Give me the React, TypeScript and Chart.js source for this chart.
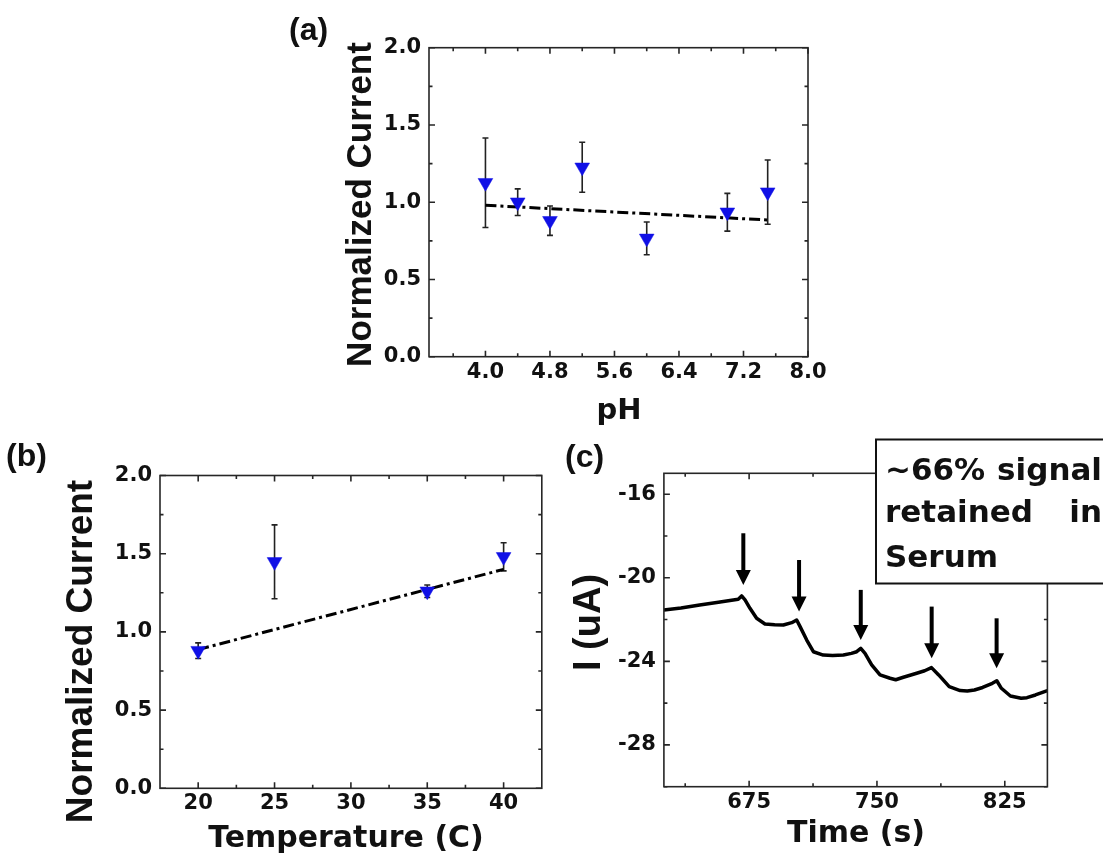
import React, { useEffect, useRef } from "react";
import { Chart, registerables } from "chart.js";

Chart.register(...registerables);

const W = 1103;
const H = 856;

// ---------- Panel (a): pH ----------
const phValues = [4.0, 4.4, 4.8, 5.2, 6.0, 7.0, 7.5];
const phCurrent = [1.126, 1.0, 0.88, 1.226, 0.766, 0.935, 1.065];
const phError = [0.29, 0.086, 0.095, 0.162, 0.106, 0.122, 0.208];
const phFitX = [4.0, 7.5];
const phFitY = [0.98, 0.885];
const phTicks = [4.0, 4.8, 5.6, 6.4, 7.2, 8.0];
const phTickLabels = ["4.0", "4.8", "5.6", "6.4", "7.2", "8.0"];
const phMinorTicks = [3.6, 4.4, 5.2, 6.0, 6.8, 7.6];

const ncTicks = [0, 0.5, 1.0, 1.5, 2.0];
const ncTickLabels = ["0.0", "0.5", "1.0", "1.5", "2.0"];
const ncMinorTicks = [0.25, 0.75, 1.25, 1.75];

// ---------- Panel (b): temperature ----------
const tempValues = [20, 25, 35, 40];
const tempCurrent = [0.88, 1.448, 1.26, 1.48];
const tempError = [0.05, 0.236, 0.04, 0.09];
const tempFitX = [20, 40];
const tempFitY = [0.887, 1.4];
const tempTicks = [20, 25, 30, 35, 40];
const tempTickLabels = ["20", "25", "30", "35", "40"];
const tempMinorTicks = [22.5, 27.5, 32.5, 37.5];

// ---------- Panel (c): amperometric trace in serum ----------
const timeValues = [
  625, 635, 646, 657, 668.6, 670.6, 672.6, 675.5, 679.4, 684.3, 690, 695.1,
  700, 702.9, 704.9, 708.8, 712.7, 718.5, 724, 730.3, 735, 738.1, 740.5, 743,
  746.9, 751.8, 757.7, 761, 765.5, 773.3, 778, 782, 786.2, 792.4, 798.8, 803,
  807.2, 812, 817.7, 820.3, 823, 828.3, 834.6, 838, 843, 850,
];
const currentUA = [
  -21.54, -21.45, -21.3, -21.17, -21.03, -20.87, -21.06, -21.46, -21.94, -22.21,
  -22.25, -22.26, -22.15, -22.02, -22.34, -22.98, -23.54, -23.7, -23.72, -23.7,
  -23.62, -23.54, -23.38, -23.62, -24.17, -24.65, -24.81, -24.88, -24.76, -24.57,
  -24.45, -24.3, -24.65, -25.21, -25.4, -25.42, -25.37, -25.25, -25.05, -24.93,
  -25.29, -25.66, -25.77, -25.74, -25.61, -25.4,
];
const arrowTimes = [671.6, 704.3, 740.5, 782.1, 820.2];
const arrowTops = [-17.87, -19.15, -20.58, -21.38, -21.94];
const arrowTips = [-20.35, -21.62, -22.98, -23.85, -24.33];
const timeTicks = [675, 750, 825];
const timeTickLabels = ["675", "750", "825"];
const timeMinorTicks = [637.5, 712.5, 787.5];
const uaTicks = [-28, -24, -20, -16];
const uaTickLabels = ["-28", "-24", "-20", "-16"];
const uaMinorTicks = [-30, -26, -22, -18];
const noteLines = [["~66%", "signal"], ["retained", "in"], ["Serum", ""]];

// ---------- styling ----------
const BLUE = "#1010e6";
const INK = "#111111";
const FRAME = "#262626";
const TICK_FONT = { family: "'DejaVu Sans', sans-serif", weight: "bold" as const, size: 21 };

type TextItem = {
  text: string;
  x: number;
  y: number;
  font: string;
  rotate?: boolean;
  align?: CanvasTextAlign;
  baseline?: CanvasTextBaseline;
};

function axis(min: number, max: number, ticks: number[], labels: string[], isX: boolean, size: number) {
  return {
    type: "linear" as const,
    min,
    max,
    afterBuildTicks: (s: any) => {
      s.ticks = ticks.map((v) => ({ value: v }));
    },
    afterFit: (s: any) => {
      if (isX) s.height = size;
      else s.width = size;
    },
    ticks: {
      callback: (_v: any, i: number) => labels[i],
      font: TICK_FONT,
      color: INK,
      padding: isX ? 3 : 8,
      maxRotation: 0,
      minRotation: 0,
      autoSkip: false,
    },
    grid: { display: false, drawTicks: false },
    border: { display: false },
  };
}

function framePlugin(xMajor: number[], xMinor: number[], yMajor: number[], yMinor: number[]) {
  return {
    id: "frameTicks",
    afterDatasetsDraw(chart: any) {
      const { ctx, chartArea: a, scales } = chart;
      const sx = scales.x;
      const sy = scales.y;
      ctx.save();
      ctx.strokeStyle = FRAME;
      ctx.lineWidth = 1.6;
      ctx.beginPath();
      const drawX = (vals: number[], len: number) => {
        vals.forEach((v) => {
          const p = sx.getPixelForValue(v);
          ctx.moveTo(p, a.bottom);
          ctx.lineTo(p, a.bottom - len);
          ctx.moveTo(p, a.top);
          ctx.lineTo(p, a.top + len);
        });
      };
      const drawY = (vals: number[], len: number) => {
        vals.forEach((v) => {
          const p = sy.getPixelForValue(v);
          ctx.moveTo(a.left, p);
          ctx.lineTo(a.left + len, p);
          ctx.moveTo(a.right, p);
          ctx.lineTo(a.right - len, p);
        });
      };
      drawX(xMajor, 6);
      drawX(xMinor, 3.5);
      drawY(yMajor, 6);
      drawY(yMinor, 3.5);
      ctx.stroke();
      ctx.strokeRect(a.left, a.top, a.right - a.left, a.bottom - a.top);
      ctx.restore();
    },
  };
}

function errorPlugin(xs: number[], ys: number[], errs: number[]) {
  return {
    id: "errorBars",
    beforeDatasetsDraw(chart: any) {
      const { ctx, scales } = chart;
      ctx.save();
      ctx.strokeStyle = "#222";
      ctx.lineWidth = 1.6;
      ctx.beginPath();
      xs.forEach((xv, i) => {
        const px = scales.x.getPixelForValue(xv);
        const top = scales.y.getPixelForValue(ys[i] + errs[i]);
        const bot = scales.y.getPixelForValue(ys[i] - errs[i]);
        ctx.moveTo(px, top);
        ctx.lineTo(px, bot);
        ctx.moveTo(px - 3, top);
        ctx.lineTo(px + 3, top);
        ctx.moveTo(px - 3, bot);
        ctx.lineTo(px + 3, bot);
      });
      ctx.stroke();
      ctx.restore();
    },
  };
}

function textPlugin(items: TextItem[]) {
  return {
    id: "texts",
    afterDraw(chart: any) {
      const { ctx } = chart;
      items.forEach((t) => {
        ctx.save();
        ctx.fillStyle = INK;
        ctx.font = t.font;
        ctx.textAlign = t.align || "center";
        ctx.textBaseline = t.baseline || "middle";
        ctx.translate(t.x, t.y);
        if (t.rotate) ctx.rotate(-Math.PI / 2);
        ctx.fillText(t.text, 0, 0);
        ctx.restore();
      });
    },
  };
}

function arrowPlugin() {
  return {
    id: "arrows",
    afterDatasetsDraw(chart: any) {
      const { ctx, scales } = chart;
      ctx.save();
      ctx.fillStyle = "#000";
      ctx.strokeStyle = "#000";
      arrowTimes.forEach((t, i) => {
        const px = scales.x.getPixelForValue(t);
        const top = scales.y.getPixelForValue(arrowTops[i]);
        const tip = scales.y.getPixelForValue(arrowTips[i]);
        const head = 15;
        ctx.lineWidth = 4;
        ctx.beginPath();
        ctx.moveTo(px, top);
        ctx.lineTo(px, tip - head + 2);
        ctx.stroke();
        ctx.beginPath();
        ctx.moveTo(px - 7.5, tip - head);
        ctx.lineTo(px + 7.5, tip - head);
        ctx.lineTo(px, tip);
        ctx.closePath();
        ctx.fill();
      });
      ctx.restore();
    },
  };
}

function notePlugin() {
  return {
    id: "noteBox",
    afterDraw(chart: any) {
      const { ctx } = chart;
      const left = 876;
      const top = 439.5;
      const bottom = 583.5;
      ctx.save();
      ctx.fillStyle = "#fff";
      ctx.fillRect(left, top, W - left + 10, bottom - top);
      ctx.strokeStyle = "#111";
      ctx.lineWidth = 2;
      ctx.strokeRect(left, top, W - left + 10, bottom - top);
      ctx.fillStyle = INK;
      ctx.font = "bold 31px 'DejaVu Sans', sans-serif";
      ctx.textBaseline = "alphabetic";
      const baselines = [479.5, 522, 566.5];
      noteLines.forEach((ln, i) => {
        ctx.textAlign = "left";
        ctx.fillText(ln[0], 885, baselines[i]);
        if (ln[1]) {
          ctx.textAlign = "right";
          ctx.fillText(ln[1], 1102, baselines[i]);
        }
      });
      ctx.restore();
    },
  };
}

const pts = (xs: number[], ys: number[]) => xs.map((x, i) => ({ x, y: ys[i] }));

const fitDataset = (xs: number[], ys: number[]) => ({
  data: pts(xs, ys),
  borderColor: "#000",
  borderWidth: 3,
  borderDash: [11, 4, 3, 4],
  borderCapStyle: "butt" as const,
  pointRadius: 0,
  fill: false,
  tension: 0,
});

const markerDataset = (xs: number[], ys: number[]) => ({
  data: pts(xs, ys),
  showLine: false,
  pointStyle: "triangle" as const,
  rotation: 180,
  pointRadius: 8.5,
  pointBackgroundColor: BLUE,
  pointBorderColor: BLUE,
  pointBorderWidth: 0.5,
});

const baseOptions = (padding: any, scales: any) => ({
  responsive: false,
  animation: false as const,
  events: [] as any[],
  layout: { padding },
  plugins: { legend: { display: false }, tooltip: { enabled: false } },
  scales,
});

function buildA(canvas: HTMLCanvasElement) {
  return new Chart(canvas, {
    type: "line",
    data: { datasets: [markerDataset(phValues, phCurrent) as any, fitDataset(phFitX, phFitY)] },
    options: baseOptions(
      { left: 369, right: W - 808, top: 47.7, bottom: H - 356.7 - 40 },
      {
        x: axis(3.3, 8.0, phTicks, phTickLabels, true, 40),
        y: axis(0, 2, ncTicks, ncTickLabels, false, 60),
      }
    ) as any,
    plugins: [
      errorPlugin(phValues, phCurrent, phError),
      framePlugin(phTicks, phMinorTicks, ncTicks, ncMinorTicks),
      textPlugin([
        { text: "(a)", x: 289, y: 40, font: "bold 32px 'Liberation Sans', Arial, sans-serif", align: "left", baseline: "alphabetic" },
        { text: "Normalized Current", x: 361, y: 204.5, font: "bold 35px 'Liberation Sans', Arial, sans-serif", rotate: true },
        { text: "pH", x: 619, y: 411, font: "bold 29px 'DejaVu Sans', sans-serif" },
      ]),
    ],
  });
}

function buildB(canvas: HTMLCanvasElement) {
  return new Chart(canvas, {
    type: "line",
    data: { datasets: [markerDataset(tempValues, tempCurrent) as any, fitDataset(tempFitX, tempFitY)] },
    options: baseOptions(
      { left: 100, right: W - 541.8, top: 475.5, bottom: H - 788.3 - 40 },
      {
        x: axis(17.5, 42.5, tempTicks, tempTickLabels, true, 40),
        y: axis(0, 2, ncTicks, ncTickLabels, false, 60),
      }
    ) as any,
    plugins: [
      errorPlugin(tempValues, tempCurrent, tempError),
      framePlugin(tempTicks, tempMinorTicks, ncTicks, ncMinorTicks),
      textPlugin([
        { text: "(b)", x: 6, y: 466, font: "bold 32px 'Liberation Sans', Arial, sans-serif", align: "left", baseline: "alphabetic" },
        { text: "Normalized Current", x: 82, y: 651.5, font: "bold 37px 'Liberation Sans', Arial, sans-serif", rotate: true },
        { text: "Temperature (C)", x: 346, y: 839, font: "bold 30px 'DejaVu Sans', sans-serif" },
      ]),
    ],
  });
}

function buildC(canvas: HTMLCanvasElement) {
  return new Chart(canvas, {
    type: "line",
    data: {
      datasets: [
        {
          data: pts(timeValues, currentUA),
          borderColor: "#000",
          borderWidth: 3.5,
          borderJoinStyle: "round" as const,
          pointRadius: 0,
          fill: false,
          tension: 0,
        },
      ],
    },
    options: baseOptions(
      { left: 603.9, right: W - 1047.4, top: 473.3, bottom: H - 786.7 - 40 },
      {
        x: axis(625, 850, timeTicks, timeTickLabels, true, 40),
        y: axis(-30, -15, uaTicks, uaTickLabels, false, 60),
      }
    ) as any,
    plugins: [
      framePlugin(timeTicks, timeMinorTicks, uaTicks, uaMinorTicks),
      arrowPlugin(),
      textPlugin([
        { text: "(c)", x: 565, y: 467, font: "bold 32px 'Liberation Sans', Arial, sans-serif", align: "left", baseline: "alphabetic" },
        { text: "I (uA)", x: 590, y: 622.5, font: "bold 38px 'Liberation Sans', Arial, sans-serif", rotate: true },
        { text: "Time (s)", x: 856, y: 834.5, font: "bold 30px 'DejaVu Sans', sans-serif" },
      ]),
      notePlugin(),
    ],
  });
}

const canvasStyle: React.CSSProperties = { position: "absolute", left: 0, top: 0, width: W, height: H };

export default function App() {
  const refA = useRef<HTMLCanvasElement>(null);
  const refB = useRef<HTMLCanvasElement>(null);
  const refC = useRef<HTMLCanvasElement>(null);

  useEffect(() => {
    const charts = [buildA(refA.current!), buildB(refB.current!), buildC(refC.current!)];
    return () => charts.forEach((c) => c.destroy());
  }, []);

  return (
    <div style={{ position: "absolute", left: 0, top: 0, width: W, height: H, background: "#fff", overflow: "hidden" }}>
      <canvas ref={refA} width={W} height={H} style={canvasStyle} />
      <canvas ref={refB} width={W} height={H} style={canvasStyle} />
      <canvas ref={refC} width={W} height={H} style={canvasStyle} />
    </div>
  );
}
